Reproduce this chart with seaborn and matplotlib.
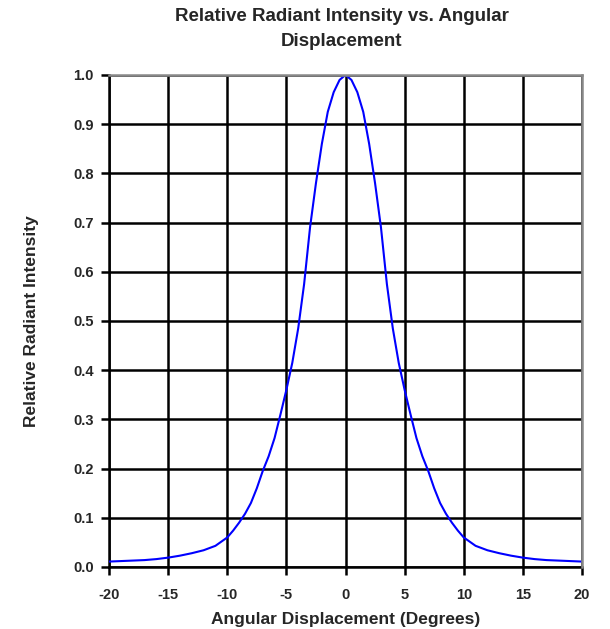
import matplotlib
matplotlib.use("Agg")
import matplotlib.pyplot as plt
import seaborn as sns
import numpy as np
import pandas as pd

sns.set_theme(style="white")
plt.rcParams['font.family'] = ['Liberation Sans', 'DejaVu Sans']

# values
angle_right = [0, 0.5, 1, 1.5, 2, 2.5, 3, 3.5, 4, 4.5, 5, 5.5, 6, 6.5, 7, 7.5,
               8, 8.5, 9, 9.5, 10, 11, 12, 13, 14, 15, 16, 17, 18, 19, 20]
intensity_right = [1.0, 0.99, 0.965, 0.925, 0.86, 0.78, 0.69, 0.575, 0.485, 0.415,
                   0.36, 0.31, 0.262, 0.225, 0.195, 0.16, 0.13, 0.108, 0.09, 0.074,
                   0.06, 0.043, 0.034, 0.028, 0.023, 0.019, 0.016, 0.014, 0.013,
                   0.012, 0.011]

angle = [-a for a in angle_right[:0:-1]] + angle_right
intensity = intensity_right[:0:-1] + intensity_right
df = pd.DataFrame({"angle": angle, "intensity": intensity})

x_ticks = [-20, -15, -10, -5, 0, 5, 10, 15, 20]
y_ticks = [0.0, 0.1, 0.2, 0.3, 0.4, 0.5, 0.6, 0.7, 0.8, 0.9, 1.0]

fig = plt.figure(figsize=(6.1, 6.29), dpi=100)
ax = fig.add_axes([0.1787, 0.0986, 0.7754, 0.7822])

sns.lineplot(data=df, x="angle", y="intensity", ax=ax, color="#0000ff",
             linewidth=1.5, zorder=3)

ax.set_xlim(-20, 20)
ax.set_ylim(0, 1.0)
ax.set_xticks(x_ticks)
ax.set_yticks(y_ticks)
ax.set_xticklabels([str(t) for t in x_ticks], fontsize=10.5, fontweight="bold")
ax.set_yticklabels([f"{t:.1f}" for t in y_ticks], fontsize=10.5, fontweight="bold")
ax.grid(True, color="black", linewidth=1.8)
ax.tick_params(axis="both", direction="out", length=6, width=1.8, color="black",
               bottom=True, left=True, pad=5)
ax.tick_params(axis="x", pad=9)

for side in ["left", "bottom"]:
    ax.spines[side].set_color("black")
    ax.spines[side].set_linewidth(1.8)
for side in ["top", "right"]:
    ax.spines[side].set_color("#888888")
    ax.spines[side].set_linewidth(1.8)
    ax.spines[side].set_zorder(4)

ax.set_xlabel("Angular Displacement (Degrees)", fontsize=12.5, fontweight="bold")
ax.set_ylabel("Relative Radiant Intensity", fontsize=12.5, fontweight="bold")
ax.xaxis.set_label_coords(0.5, -0.091)
ax.yaxis.set_label_coords(-0.148, 0.5)

fig.text(0.56, 0.973, "Relative Radiant Intensity vs. Angular", ha="center",
         va="center", fontsize=13.5, fontweight="bold")
fig.text(0.56, 0.934, "Displacement", ha="center", va="center",
         fontsize=13.5, fontweight="bold")

fig.savefig("out.png", dpi=100)
